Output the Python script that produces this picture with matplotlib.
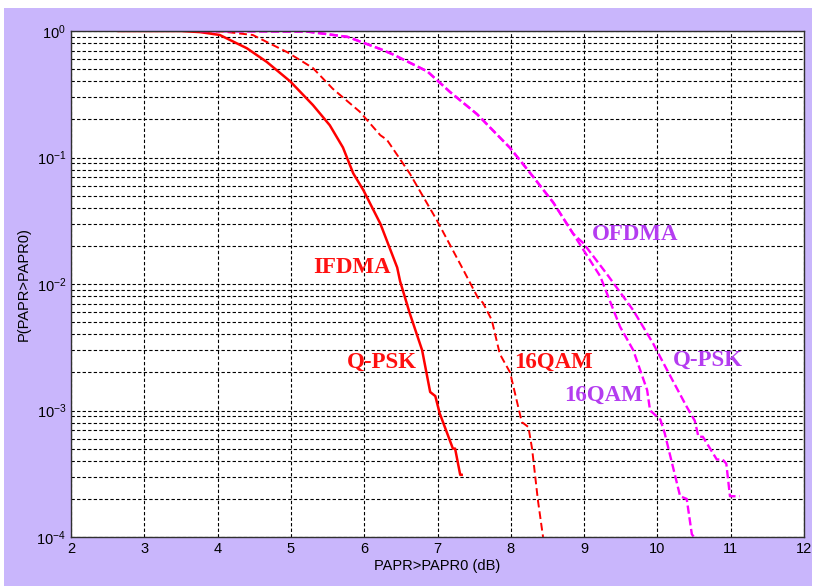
import numpy as np
import matplotlib.pyplot as plt
from matplotlib.patches import Rectangle
from matplotlib.ticker import LogLocator, NullFormatter

# IFDMA, Q-PSK (red solid)
ifdma_qpsk_x = [2.65, 3.5, 3.76, 4.03, 4.40, 4.67, 4.99, 5.30, 5.53, 5.71, 5.85, 5.99, 6.22,
                6.45, 6.49, 6.62, 6.79, 6.90, 6.97, 7.03, 7.21, 7.24, 7.31, 7.33]
ifdma_qpsk_y = [1.0, 1.0, 0.98, 0.93, 0.73, 0.57, 0.40, 0.26, 0.18, 0.12, 0.075, 0.055, 0.030,
                0.0135, 0.0105, 0.0059, 0.0030, 0.0014, 0.0013, 0.00095, 0.0005, 0.0005, 0.00031, 0.00031]

# IFDMA, 16QAM (red dashed)
ifdma_16qam_x = [3.5, 4.07, 4.48, 4.95, 5.30, 5.57, 5.94, 6.22, 6.31, 6.62, 6.99, 7.35, 7.55,
                 7.62, 7.74, 7.85, 7.99, 8.15, 8.24, 8.29, 8.37, 8.44]
ifdma_16qam_y = [1.0, 0.99, 0.93, 0.68, 0.51, 0.35, 0.23, 0.15, 0.138, 0.075, 0.032, 0.013, 0.0078,
                 0.0071, 0.0052, 0.0028, 0.0020, 0.00081, 0.00074, 0.0005, 0.000195, 0.0001]

# OFDMA, Q-PSK (magenta dashed, outer)
ofdma_qpsk_x = [3.76, 5.22, 5.77, 6.22, 6.40, 6.86, 7.17, 7.54, 7.99, 8.30, 8.58, 8.85, 8.99,
                9.31, 9.67, 9.94, 10.13, 10.40, 10.51, 10.56, 10.62, 10.81, 10.89, 10.94, 10.99, 11.12]
ofdma_qpsk_y = [1.0, 0.99, 0.90, 0.72, 0.65, 0.48, 0.33, 0.22, 0.119, 0.071, 0.044, 0.025, 0.021,
                0.012, 0.0062, 0.0034, 0.0021, 0.00107, 0.00083, 0.00062, 0.00062, 0.00041, 0.00041,
                0.00038, 0.00021, 0.00021]

# OFDMA, 16QAM (magenta dashed, inner)
ofdma_16qam_x = [3.76, 5.22, 5.77, 6.22, 6.40, 6.86, 7.17, 7.54, 7.99, 8.30, 8.58, 8.85, 9.22,
                 9.49, 9.67, 9.86, 9.90, 10.04, 10.10, 10.31, 10.40, 10.47, 10.50]
ofdma_16qam_y = [1.0, 0.99, 0.90, 0.72, 0.65, 0.48, 0.33, 0.22, 0.119, 0.071, 0.044, 0.025, 0.0115,
                 0.0046, 0.0030, 0.00145, 0.0010, 0.00085, 0.00066, 0.00021, 0.0002, 0.000105, 0.0001]

lavender = '#c9b6fc'
label_font = dict(family='Liberation Serif', fontweight='bold', fontsize=16.5,
                  ha='center', va='center')

fig = plt.figure(figsize=(8.17, 5.86), dpi=100, facecolor='white')
fig.patches.append(Rectangle((4 / 817, 0), 808 / 817, 578 / 586, transform=fig.transFigure,
                             facecolor=lavender, edgecolor='none', zorder=-1))
ax = fig.add_axes([71 / 817, 49 / 586, 733 / 817, 506 / 586])
ax.set_facecolor('white')

ax.semilogy(ifdma_qpsk_x, ifdma_qpsk_y, color='#ff0000', lw=1.8, ls='-')
ax.semilogy(ifdma_16qam_x, ifdma_16qam_y, color='#ff0000', lw=1.4, ls=(0, (4, 2)))
ax.semilogy(ofdma_qpsk_x, ofdma_qpsk_y, color='#ff00ff', lw=1.7, ls=(0, (3.5, 1.5)))
ax.semilogy(ofdma_16qam_x, ofdma_16qam_y, color='#ff00ff', lw=1.7, ls=(0, (3.5, 1.5)))

ax.set_xlim(2, 12)
ax.set_ylim(1e-4, 1)
ax.set_xticks(range(2, 13))
ax.yaxis.set_major_locator(LogLocator(base=10, numticks=10))
ax.yaxis.set_minor_locator(LogLocator(base=10, subs=np.arange(2, 10), numticks=10))
ax.yaxis.set_minor_formatter(NullFormatter())
ax.grid(True, which='major', axis='both', color='black', ls=(0, (3, 2)), lw=0.8)
ax.grid(True, which='minor', axis='y', color='black', ls=(0, (3, 2)), lw=0.8)
ax.tick_params(which='both', direction='in', labelsize=10.5, length=0)
for lab in ax.get_xticklabels() + ax.get_yticklabels():
    lab.set_family('Liberation Sans')
for sp in ax.spines.values():
    sp.set_color('#303030')
    sp.set_linewidth(1.0)

ax.set_xlabel('PAPR>PAPR0 (dB)', fontsize=10.5, family='Liberation Sans', labelpad=2)
ax.set_ylabel('P(PAPR>PAPR0)', fontsize=10.5, family='Liberation Sans', labelpad=4)

ax.text(5.83, 0.0134, 'IFDMA', color='#ff1010', **label_font)
ax.text(6.24, 0.0024, 'Q-PSK', color='#ff1010', **label_font)
ax.text(8.58, 0.0024, '16QAM', color='#ff1010', **label_font)
ax.text(9.69, 0.0244, 'OFDMA', color='#b43cf0', **label_font)
ax.text(10.69, 0.0025, 'Q-PSK', color='#b43cf0', **label_font)
ax.text(9.26, 0.00132, '16QAM', color='#b43cf0', **label_font)

plt.savefig('out.png', dpi=100, facecolor=fig.get_facecolor())
